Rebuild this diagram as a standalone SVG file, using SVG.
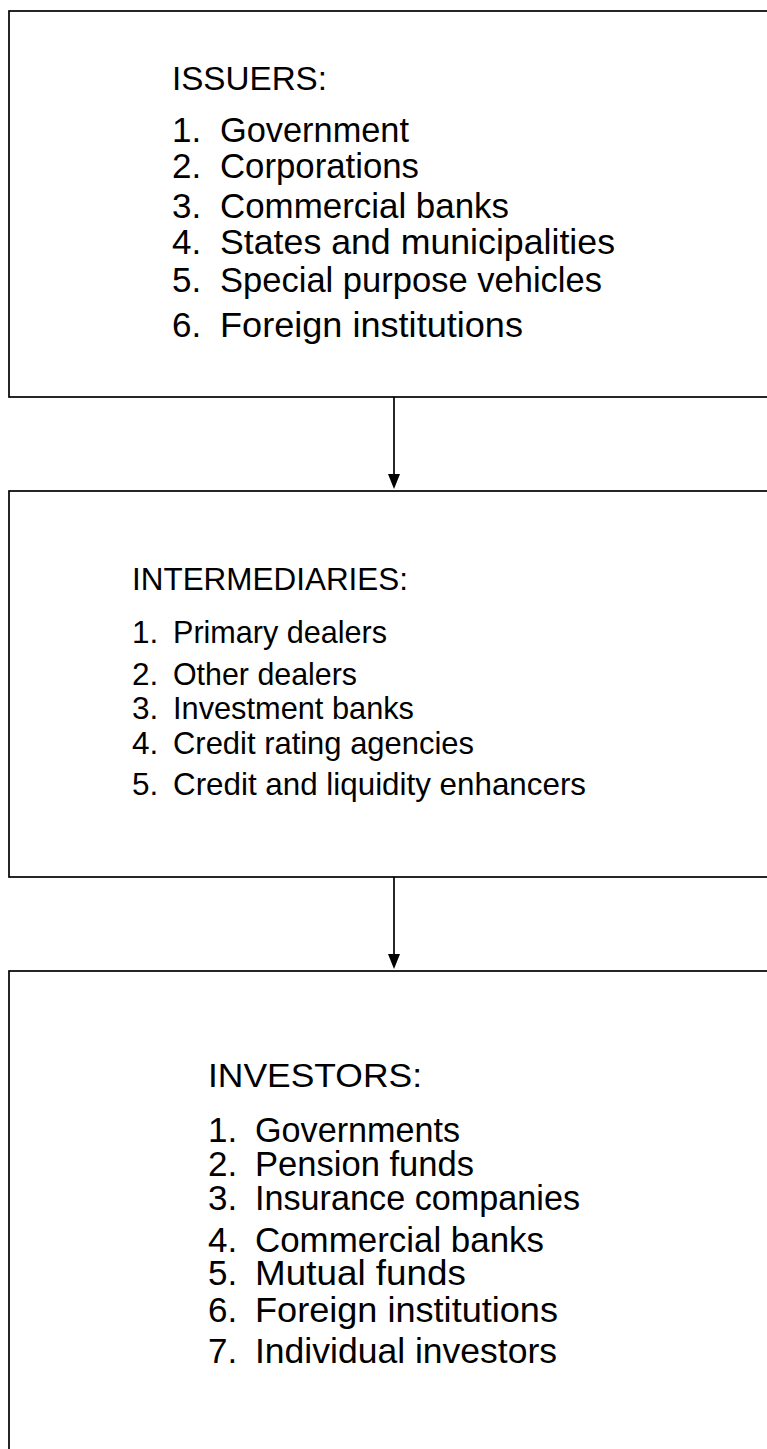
<svg xmlns="http://www.w3.org/2000/svg" width="767" height="1449" viewBox="0 0 767 1449">
  <style>
    .box { fill: #ffffff; stroke: #000000; stroke-width: 1.7; }
    .edge { stroke: #000000; stroke-width: 1.7; fill: none; }
    .t { font-family: "Liberation Sans", Arial, sans-serif; font-size: 35px; fill: #000000; }
    .h { font-family: "Liberation Sans", Arial, sans-serif; font-size: 34px; fill: #000000; }
    .s { font-size: 31.5px; }
  </style>
  <rect width="767" height="1449" fill="#ffffff"/>

  <!-- connectors: vertical flow lines with solid heads -->
  <g id="connectors">
    <line class="edge" x1="394" y1="397" x2="394" y2="474"/>
    <path d="M388,474 L400,474 L394,489 Z" fill="#000000"/>
    <line class="edge" x1="394" y1="877" x2="394" y2="954"/>
    <path d="M388,954 L400,954 L394,969 Z" fill="#000000"/>
  </g>

  <!-- issuers -->
  <g id="issuers">
    <rect class="box" x="9" y="11" width="800" height="386"/>
    <text class="h" x="172" y="90" textLength="155" lengthAdjust="spacingAndGlyphs">ISSUERS:</text>
    <text class="t" x="172" y="142">1.</text>
    <text class="t" x="220" y="142" textLength="189" lengthAdjust="spacingAndGlyphs">Government</text>
    <text class="t" x="172" y="178">2.</text>
    <text class="t" x="220" y="178" textLength="199" lengthAdjust="spacingAndGlyphs">Corporations</text>
    <text class="t" x="172" y="218">3.</text>
    <text class="t" x="220" y="218" textLength="289" lengthAdjust="spacingAndGlyphs">Commercial banks</text>
    <text class="t" x="172" y="254">4.</text>
    <text class="t" x="220" y="254" textLength="395" lengthAdjust="spacingAndGlyphs">States and municipalities</text>
    <text class="t" x="172" y="292">5.</text>
    <text class="t" x="220" y="292" textLength="382" lengthAdjust="spacingAndGlyphs">Special purpose vehicles</text>
    <text class="t" x="172" y="337">6.</text>
    <text class="t" x="220" y="337" textLength="303" lengthAdjust="spacingAndGlyphs">Foreign institutions</text>
  </g>

  <!-- intermediaries -->
  <g id="intermediaries">
    <rect class="box" x="9" y="491" width="800" height="386"/>
    <text class="h s" x="132" y="590" textLength="276" lengthAdjust="spacingAndGlyphs">INTERMEDIARIES:</text>
    <text class="t s" x="132" y="643">1.</text>
    <text class="t s" x="173" y="643" textLength="214" lengthAdjust="spacingAndGlyphs">Primary dealers</text>
    <text class="t s" x="132" y="685">2.</text>
    <text class="t s" x="173" y="685" textLength="184" lengthAdjust="spacingAndGlyphs">Other dealers</text>
    <text class="t s" x="132" y="719">3.</text>
    <text class="t s" x="173" y="719" textLength="241" lengthAdjust="spacingAndGlyphs">Investment banks</text>
    <text class="t s" x="132" y="754">4.</text>
    <text class="t s" x="173" y="754" textLength="301" lengthAdjust="spacingAndGlyphs">Credit rating agencies</text>
    <text class="t s" x="132" y="795">5.</text>
    <text class="t s" x="173" y="795" textLength="413" lengthAdjust="spacingAndGlyphs">Credit and liquidity enhancers</text>
  </g>

  <!-- investors -->
  <g id="investors">
    <rect class="box" x="9" y="971" width="800" height="520"/>
    <text class="h" x="208" y="1087" textLength="214" lengthAdjust="spacingAndGlyphs">INVESTORS:</text>
    <text class="t" x="208" y="1142">1.</text>
    <text class="t" x="255" y="1142" textLength="205" lengthAdjust="spacingAndGlyphs">Governments</text>
    <text class="t" x="208" y="1176">2.</text>
    <text class="t" x="255" y="1176" textLength="219" lengthAdjust="spacingAndGlyphs">Pension funds</text>
    <text class="t" x="208" y="1210">3.</text>
    <text class="t" x="255" y="1210" textLength="325" lengthAdjust="spacingAndGlyphs">Insurance companies</text>
    <text class="t" x="208" y="1252">4.</text>
    <text class="t" x="255" y="1252" textLength="289" lengthAdjust="spacingAndGlyphs">Commercial banks</text>
    <text class="t" x="208" y="1285">5.</text>
    <text class="t" x="255" y="1285" textLength="211" lengthAdjust="spacingAndGlyphs">Mutual funds</text>
    <text class="t" x="208" y="1322">6.</text>
    <text class="t" x="255" y="1322" textLength="303" lengthAdjust="spacingAndGlyphs">Foreign institutions</text>
    <text class="t" x="208" y="1363">7.</text>
    <text class="t" x="255" y="1363" textLength="302" lengthAdjust="spacingAndGlyphs">Individual investors</text>
  </g>
</svg>
